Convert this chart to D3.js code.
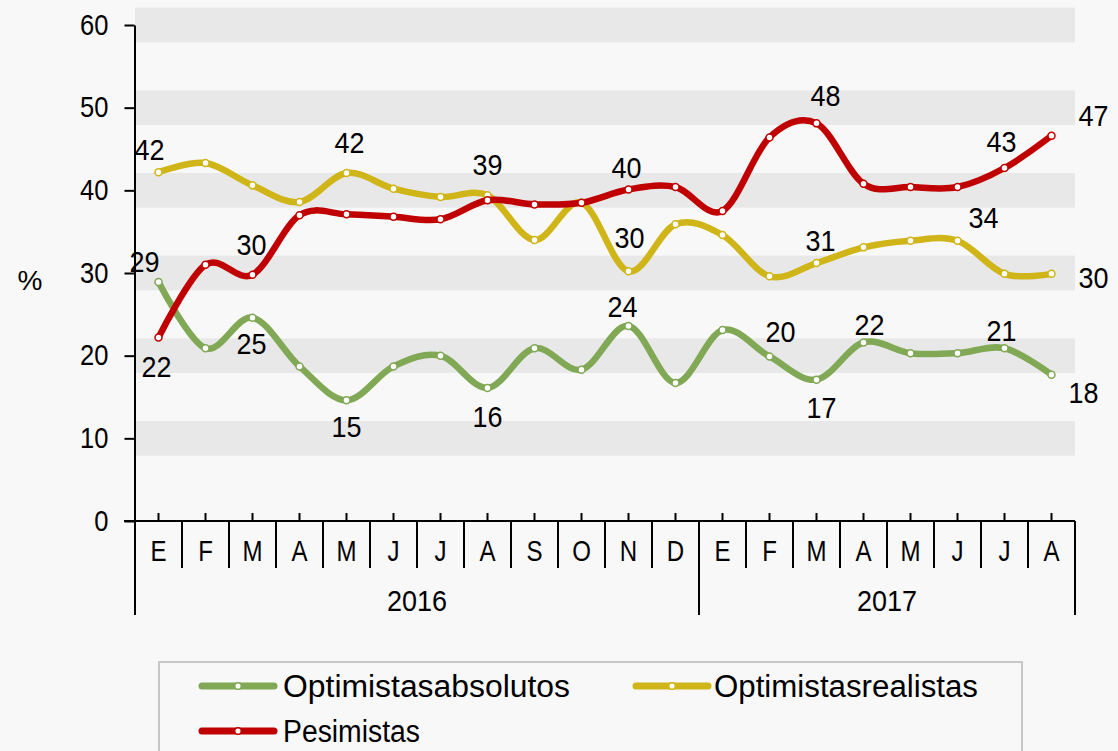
<!DOCTYPE html>
<html><head><meta charset="utf-8">
<script src="https://cdn.jsdelivr.net/npm/d3@7"></script>
<style>
html,body{margin:0;padding:0;background:#f8f8f8;}
text{font-family:"Liberation Sans",Arial,sans-serif;fill:#000;}
</style>
</head><body>
<svg id="chart" width="1118" height="751"></svg>
<script>
// ---- data ----
const months = ["E","F","M","A","M","J","J","A","S","O","N","D","E","F","M","A","M","J","J","A"];
const years = ["2016","2017"];
const yearSpans = [12, 8];
const yTicks = [0,10,20,30,40,50,60];
const seriesNames = ["Optimistasabsolutos","Optimistasrealistas","Pesimistas"];
const optimistasAbsolutos = [28.9,20.9,24.6,18.7,14.6,18.7,20.0,16.1,20.9,18.3,23.6,16.7,23.1,19.9,17.1,21.6,20.3,20.3,20.9,17.7];
const optimistasRealistas = [42.2,43.3,40.6,38.6,42.1,40.2,39.2,39.4,34.0,38.5,30.2,35.9,34.6,29.6,31.2,33.1,33.9,33.9,29.9,29.9];
const pesimistas          = [22.2,31.0,29.8,37.0,37.1,36.8,36.5,38.8,38.3,38.5,40.1,40.4,37.5,46.4,48.1,40.8,40.4,40.4,42.7,46.6];
// labelled points: [index, dx, dy] offsets of the label from its point
const labelsAbsolutos = [[0,-14,-20],[2,-1,26],[4,0,27],[7,0,29],[10,-6,-19],[13,11,-25],[14,5,28],[15,6,-18],[18,-3,-17],[19,32,18]];
const labelsRealistas = [[0,-9,-22],[4,3,-30],[7,0,-30],[10,1,-34],[14,4,-22],[17,26,-23],[19,42,4]];
const labelsPesimistas = [[0,-2,29],[2,-1,-30],[10,-2,-22],[14,9,-28],[18,-3,-26],[19,42,-20]];
const colors = ["#80a855","#cfb517","#c00000"];

// ---- layout ----
const svg = d3.select("#chart");
const W = 1118, H = 751;
const mLeft = 135, mRight = 1075, mTop = 25, mBottom = 521;
svg.append("rect").attr("width",W).attr("height",H).attr("fill","#f8f8f8");

const x = d3.scaleBand().domain(d3.range(months.length)).range([mLeft,mRight]).padding(0);
const cx = i => x(i) + x.bandwidth()/2;
const xb = i => i >= months.length ? mRight : x(i);
const y = d3.scaleLinear().domain([0,60]).range([mBottom,mTop]);

// bands
const bandHalf = 2.1;
svg.append("g").selectAll("rect").data(yTicks.filter(v=>v>0)).join("rect")
  .attr("x",mLeft).attr("width",mRight-mLeft)
  .attr("y",d=>y(d+bandHalf)).attr("height",d=>y(d-bandHalf)-y(d+bandHalf))
  .attr("fill","#e8e8e8");

// y axis
const yAxis = svg.append("g").attr("transform",`translate(${mLeft-0.5},0)`)
  .call(d3.axisLeft(y).tickValues(yTicks).tickSize(10).tickPadding(14).tickSizeOuter(0));
yAxis.select(".domain").attr("stroke","#000").attr("stroke-width",2);
yAxis.selectAll(".tick line").attr("stroke","#000").attr("stroke-width",2);
yAxis.selectAll(".tick text").attr("font-size",29).attr("font-family",'"Liberation Sans",Arial,sans-serif').attr("fill","#000")
  .attr("transform","scale(0.88,1)").attr("x",-26/0.88);
svg.append("text").attr("x",30).attr("y",280).attr("dy","0.35em").attr("text-anchor","middle").attr("font-size",28).text("%");

// x axis
const xg = svg.append("g");
xg.append("line").attr("x1",mLeft-11).attr("x2",mRight).attr("y1",mBottom).attr("y2",mBottom).attr("stroke","#000").attr("stroke-width",2);
xg.selectAll("line.tk").data(d3.range(months.length)).join("line").attr("class","tk")
  .attr("x1",cx).attr("x2",cx).attr("y1",mBottom).attr("y2",mBottom-8).attr("stroke","#000").attr("stroke-width",2);
const yearBounds = [0]; yearSpans.forEach(s=>yearBounds.push(yearBounds[yearBounds.length-1]+s));
const bounds = d3.range(months.length+1);
xg.selectAll("line.sep").data(bounds).join("line").attr("class","sep")
  .attr("x1",xb).attr("x2",xb)
  .attr("y1",mBottom).attr("y2",i=>yearBounds.includes(i)?615:568)
  .attr("stroke","#000").attr("stroke-width",2);
xg.selectAll("text.m").data(months).join("text").attr("class","m")
  .attr("transform",(d,i)=>`translate(${cx(i)},551) scale(0.83,1)`)
  .attr("dy","0.35em").attr("text-anchor","middle").attr("font-size",29).text(d=>d);
xg.selectAll("text.y").data(years).join("text").attr("class","y")
  .attr("transform",(d,i)=>{const a=xb(yearBounds[i]); const b=xb(yearBounds[i+1]); return `translate(${(a+b)/2},600) scale(0.9,1)`;})
  .attr("dy","0.35em").attr("text-anchor","middle").attr("font-size",30).text(d=>d);

// series
const allSeries = [optimistasAbsolutos, optimistasRealistas, pesimistas];
const allLabels = [labelsAbsolutos, labelsRealistas, labelsPesimistas];
const line = d3.line().x((d,i)=>cx(i)).y(d=>y(d)).curve(d3.curveCardinal.tension(0));
allSeries.forEach((s,k)=>{
  const g = svg.append("g");
  g.append("path").attr("d",line(s)).attr("fill","none").attr("stroke",colors[k])
    .attr("stroke-width",6.5).attr("stroke-linejoin","round").attr("stroke-linecap","round");
  g.selectAll("circle").data(s).join("circle").attr("cx",(d,i)=>cx(i)).attr("cy",d=>y(d))
    .attr("r",3.5).attr("fill","#fff").attr("stroke",colors[k]).attr("stroke-width",1.5);
});
const fmt = d3.format(".0f");
allSeries.forEach((s,k)=>{
  svg.append("g").selectAll("text").data(allLabels[k]).join("text")
    .attr("transform",d=>`translate(${cx(d[0])+d[1]},${y(s[d[0]])+d[2]}) scale(0.93,1)`)
    .attr("dy","0.35em").attr("text-anchor","middle").attr("font-size",29)
    .text(d=>fmt(s[d[0]]));
});

// legend
const lg = svg.append("g");
lg.append("rect").attr("x",159).attr("y",662).attr("width",863).attr("height",120)
  .attr("fill","none").attr("stroke","#c8c8c8").attr("stroke-width",2);
const legendItems = [
  {lx:199, ly:686, tx:283, tw:287},
  {lx:633, ly:686, tx:714, tw:264},
  {lx:199, ly:731, tx:283, tw:137}
];
legendItems.forEach((it,k)=>{
  lg.append("line").attr("x1",it.lx+3).attr("x2",it.lx+75).attr("y1",it.ly).attr("y2",it.ly)
    .attr("stroke",colors[k]).attr("stroke-width",7).attr("stroke-linecap","round");
  lg.append("circle").attr("cx",it.lx+39).attr("cy",it.ly).attr("r",3.3).attr("fill","#fff")
    .attr("stroke",colors[k]).attr("stroke-width",1.5);
  lg.append("text").attr("x",it.tx).attr("y",it.ly).attr("dy","0.35em").attr("font-size",31)
    .attr("textLength",it.tw).attr("lengthAdjust","spacingAndGlyphs").text(seriesNames[k]);
});
</script>
</body></html>
